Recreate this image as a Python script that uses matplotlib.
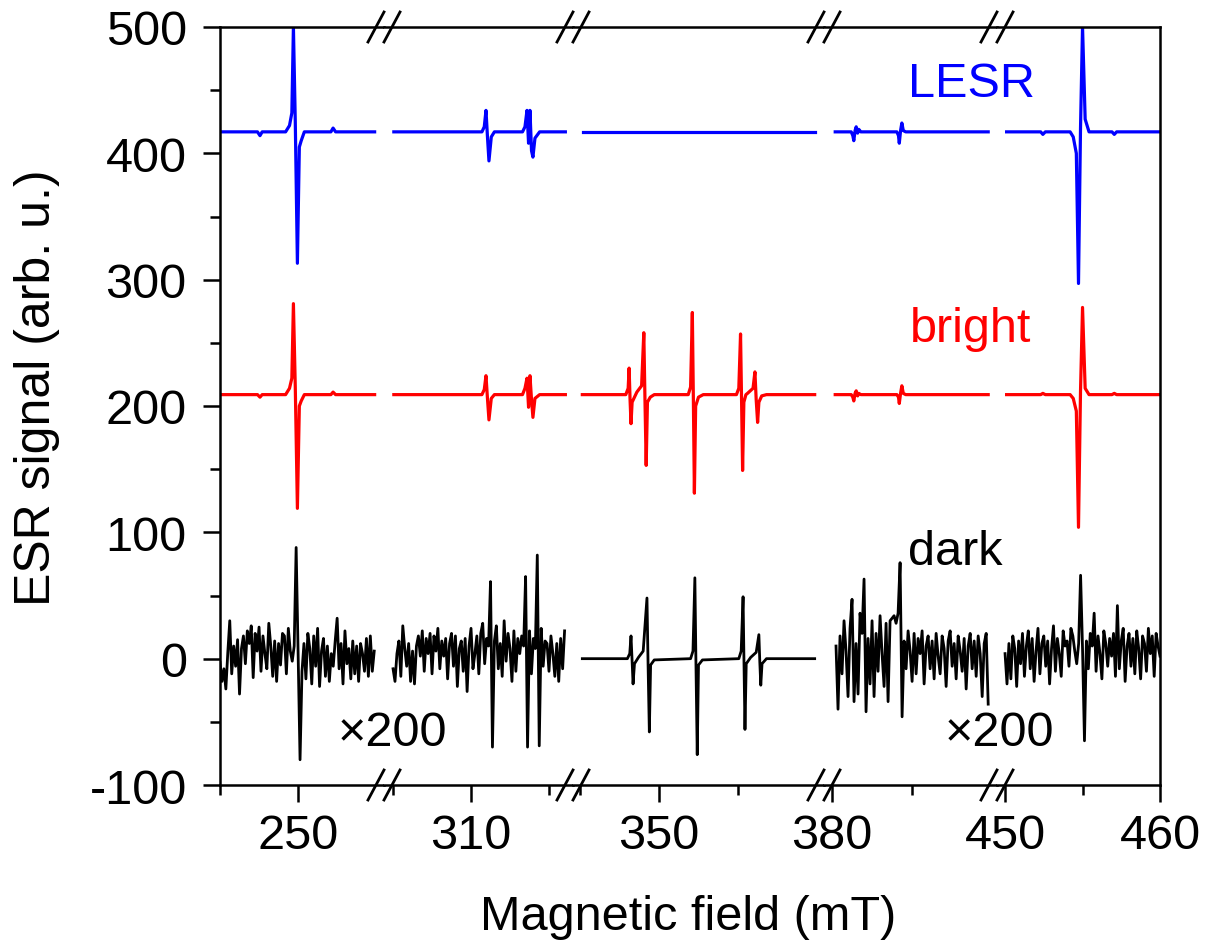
import numpy as np
import matplotlib.pyplot as plt
from matplotlib.lines import Line2D

plt.rcParams["font.family"] = ["Liberation Sans", "DejaVu Sans"]
plt.rcParams["axes.unicode_minus"] = False

# broken field axis: five windows (mT)
seg_lims = [(245.0, 255.5), (304.42, 316.54), (344.56, 360.44), (379.5, 390.3), (449.48, 460.0)]
seg_major = [[250], [310], [350], [380], [450, 460]]
seg_minor = [[245], [305, 315], [345, 355], [385], [455]]

# LESR (blue)
lesr_field = [
    [245.0, 247.4, 247.56, 247.7, 249.2, 249.45, 249.6, 249.7, 249.82, 249.955, 250.08, 250.2, 250.4, 252.1, 252.24, 252.4, 254.9],
    [305.05, 310.7, 310.85, 310.96, 311.06, 311.15, 311.3, 311.5, 313.3, 313.46, 313.59, 313.69, 313.78, 313.88, 313.97, 314.1, 314.4, 316.05],
    [345.2, 359.85],
    [380.2, 381.2, 381.3, 381.36, 381.44, 381.51, 381.6, 381.67, 381.8, 384.05, 384.15, 384.2, 384.28, 384.36, 384.45, 384.6, 389.75],
    [450.1, 452.3, 452.44, 452.6, 454.2, 454.4, 454.6, 454.74, 454.87, 455.0, 455.17, 455.42, 456.9, 457.05, 457.2, 460.0],
]
lesr_signal = [
    [417, 417, 414, 417, 417, 422, 432, 500, 425, 313, 405, 410, 417, 417, 420, 417, 417],
    [417, 417, 421, 434, 412, 394, 413, 417, 417, 421, 434, 408, 434, 402, 397, 412, 417, 417],
    [417, 417],
    [417, 417, 414, 410, 418, 421, 416, 419, 417, 417, 414, 408, 418, 424, 418, 417, 417],
    [417, 417, 415, 417, 417, 413, 400, 297, 420, 500, 427, 417, 417, 415, 417, 417],
]

# bright (red)
bright_field = [
    lesr_field[0],
    lesr_field[1],
    [345.15, 347.9, 348.05, 348.11, 348.17, 348.23, 348.3, 348.45, 348.6, 348.9, 349.04, 349.12, 349.19, 349.27,
     349.45, 349.7, 351.85, 352.0, 352.11, 352.18, 352.24, 352.32, 352.5, 352.8, 354.9, 355.05, 355.16, 355.23,
     355.29, 355.37, 355.5, 355.6, 355.95, 356.07, 356.15, 356.24, 356.32, 356.5, 356.8, 359.85],
    lesr_field[3],
    lesr_field[4],
]
bright_signal = [
    [209, 209, 207, 209, 209, 214, 222, 281, 215, 119, 200, 204, 209, 209, 211, 209, 209],
    [209, 209, 213, 224, 205, 189, 206, 209, 209, 214, 222, 199, 224, 205, 191, 206, 209, 209],
    [209, 209, 214, 230, 205, 186, 203, 207, 211, 216, 258, 200, 153, 203, 207, 209, 209, 215, 274, 200,
     131, 200, 207, 209, 209, 214, 257, 200, 149, 203, 209, 210, 214, 227, 205, 187, 203, 208, 209, 209],
    [209, 209, 207, 204, 210, 212, 208, 210, 209, 209, 207, 202, 210, 216, 210, 209, 209],
    [209, 209, 210, 209, 209, 206, 196, 104, 212, 278, 214, 209, 209, 210, 209, 209],
]

# dark (black); windows 1, 2, 4, 5 are x200, sampled every 0.125 mT
dark_step = 0.125
dark_seg1 = [-3, -18, -8, -24, 5, 30, -12, 10, -6, 15,
             -28, 8, 18, -4, 22, 12, 26, -15, 20, 6,
             25, -10, 18, 4, -8, 28, 10, -14, 14, -18,
             12, -5, 20, 18, -12, 24, 6, -2, 10, 88,
             5, -80, -10, 12, -16, 20, 8, -20, 18, -6,
             24, -22, 6, 16, -14, 10, -18, 4, -6, 14,
             32, -8, 12, -20, 22, -4, 8, -16, 14, -12,
             10, -18, 12, 4, -10, 16, -14, 18, -10, 6]
dark_seg2 = [-8, -18, 4, 14, -14, 26, 8, -6, 12, -18,
             6, -20, 10, 18, 2, 22, -10, 16, 4, 20,
             -12, 18, 6, 24, -8, 14, 2, 16, -16, 12,
             20, -6, 18, -22, 8, 14, -10, 16, -26, 10,
             24, -8, 4, 18, -12, 20, 28, -4, 16, 10,
             61, -70, 14, 26, -8, 12, -14, 30, -2, 20,
             8, -18, 22, -10, 16, 4, 18, 10, 65, -70,
             22, -12, 16, 8, 82, -69, 24, -6, 14, 12,
             -10, 18, 4, -14, 12, -18, 16, -8, 22]
dark_seg3_field = [345.15, 348.0, 348.15, 348.23, 348.3, 348.36, 348.45, 348.7, 349.0, 349.24, 349.31, 349.39,
                   349.47, 349.7, 352.0, 352.15, 352.27, 352.34, 352.42, 352.5, 352.75, 355.05, 355.2, 355.32,
                   355.38, 355.44, 355.52, 355.8, 356.15, 356.32, 356.38, 356.44, 356.52, 356.8, 359.85]
dark_seg3 = [0, 0, 4, 18, -2, -20, -4, 1, 6, 48, -5, -58, -5, -1, 0, 6, 64, -5, -76, -5,
             -1, 0, 6, 49, -5, -56, -4, 1, 5, 19, -3, -21, -4, 0, 0]
dark_seg4 = [10, -40, 18, -12, 30, 6, -30, 24, 47, -34,
             12, -28, 36, 20, 63, -42, 16, -20, 30, -30,
             20, -10, 34, 4, -22, 28, -34, 30, 32, 34,
             28, 36, 76, -46, 14, -8, 22, 6, -18, 20,
             -12, 16, 4, 22, -20, 10, 18, -8, 14, -16,
             20, 2, -12, 18, 8, -22, 14, 22, -6, 12,
             -16, 18, 6, -10, 16, -24, 10, 20, -8, 14,
             -14, 18, 4, -30, 12, 20, -36]
dark_seg5 = [4, -20, 12, -16, 18, 8, -22, 14, -4, 20,
             -14, 10, 22, -8, 16, -18, 6, 24, -12, 12,
             18, -6, 14, -20, 8, 26, -10, 16, 4, -14,
             22, 10, 14, -6, 24, 18, 6, -4, 12, 66,
             8, -65, 14, -8, 20, 10, 36, -10, 18, 4,
             -16, 22, 12, -6, 16, 2, 20, -14, 42, -8,
             14, 24, -18, 10, 20, -6, 16, -12, 22, 8,
             -16, 18, 12, -10, 24, 4, 18, -14, 20, 10, 2]
dark_start = [245.0, 305.0, None, 380.25, 450.0]

dark_signal = [dark_seg1, dark_seg2, dark_seg3, dark_seg4, dark_seg5]
dark_field = []
for start, vals in zip(dark_start, dark_signal):
    if start is None:
        dark_field.append(dark_seg3_field)
    else:
        dark_field.append(start + dark_step * np.arange(len(vals)))

# layout in pixels of the 1211x945 canvas
W, H = 1211, 945
edges_px = [220, 384, 573, 824, 997, 1160]
top_px, bot_px = 28, 786

fig = plt.figure(figsize=(W / 100, H / 100), dpi=100)
fs = 35

axes = []
for i, (lo, hi) in enumerate(seg_lims):
    x0, x1 = edges_px[i], edges_px[i + 1]
    ax = fig.add_axes([x0 / W, 1 - bot_px / H, (x1 - x0) / W, (bot_px - top_px) / H])
    ax.set_xlim(lo, hi)
    ax.set_ylim(-100, 500)

    ax.plot(dark_field[i], dark_signal[i], color="black", lw=2.0)
    ax.plot(bright_field[i], bright_signal[i], color="#ff0000", lw=2.3)
    ax.plot(lesr_field[i], lesr_signal[i], color="#0000ff", lw=2.3)

    ax.set_xticks(seg_major[i])
    ax.set_xticks(seg_minor[i], minor=True)
    ax.tick_params(axis="x", which="major", direction="out", length=12, width=1.8,
                   labelsize=fs, pad=8)
    ax.tick_params(axis="x", which="minor", direction="out", length=7, width=1.8)

    for s in ax.spines.values():
        s.set_linewidth(1.8)
    if i > 0:
        ax.spines["left"].set_visible(False)
        ax.tick_params(axis="y", which="both", left=False, labelleft=False)
    if i < len(seg_lims) - 1:
        ax.spines["right"].set_visible(False)
    axes.append(ax)

ax0 = axes[0]
ax0.set_yticks(range(-100, 501, 100))
ax0.set_yticks(range(-50, 500, 100), minor=True)
ax0.tick_params(axis="y", which="major", direction="out", length=12, width=1.8,
                labelsize=fs, pad=12)
ax0.tick_params(axis="y", which="minor", direction="out", length=7, width=1.8)

# break marks on top and bottom spines
for bx in edges_px[1:-1]:
    for y in (top_px, bot_px):
        for dx in (-8, 8):
            xc = bx + dx
            fig.add_artist(Line2D([(xc - 8) / W, (xc + 8) / W],
                                  [1 - (y + 15) / H, 1 - (y - 15) / H],
                                  color="black", lw=2.0))

# labels
fig.text(908 / W, 1 - 97 / H, "LESR", color="#0000ff", fontsize=fs, ha="left", va="baseline")
fig.text(910 / W, 1 - 342 / H, "bright", color="#ff0000", fontsize=fs, ha="left", va="baseline")
fig.text(908 / W, 1 - 565 / H, "dark", color="black", fontsize=fs, ha="left", va="baseline")
fig.text(338 / W, 1 - 746 / H, "\u00d7200", color="black", fontsize=fs, ha="left", va="baseline")
fig.text(945 / W, 1 - 746 / H, "\u00d7200", color="black", fontsize=fs, ha="left", va="baseline")

fig.text(688 / W, 1 - 930 / H, "Magnetic field (mT)", fontsize=fs, ha="center", va="baseline")
fig.text(37 / W, 1 - 388 / H, "ESR signal (arb. u.)", fontsize=36, ha="center", va="center",
         rotation=90)

fig.savefig("out.png", dpi=100)
